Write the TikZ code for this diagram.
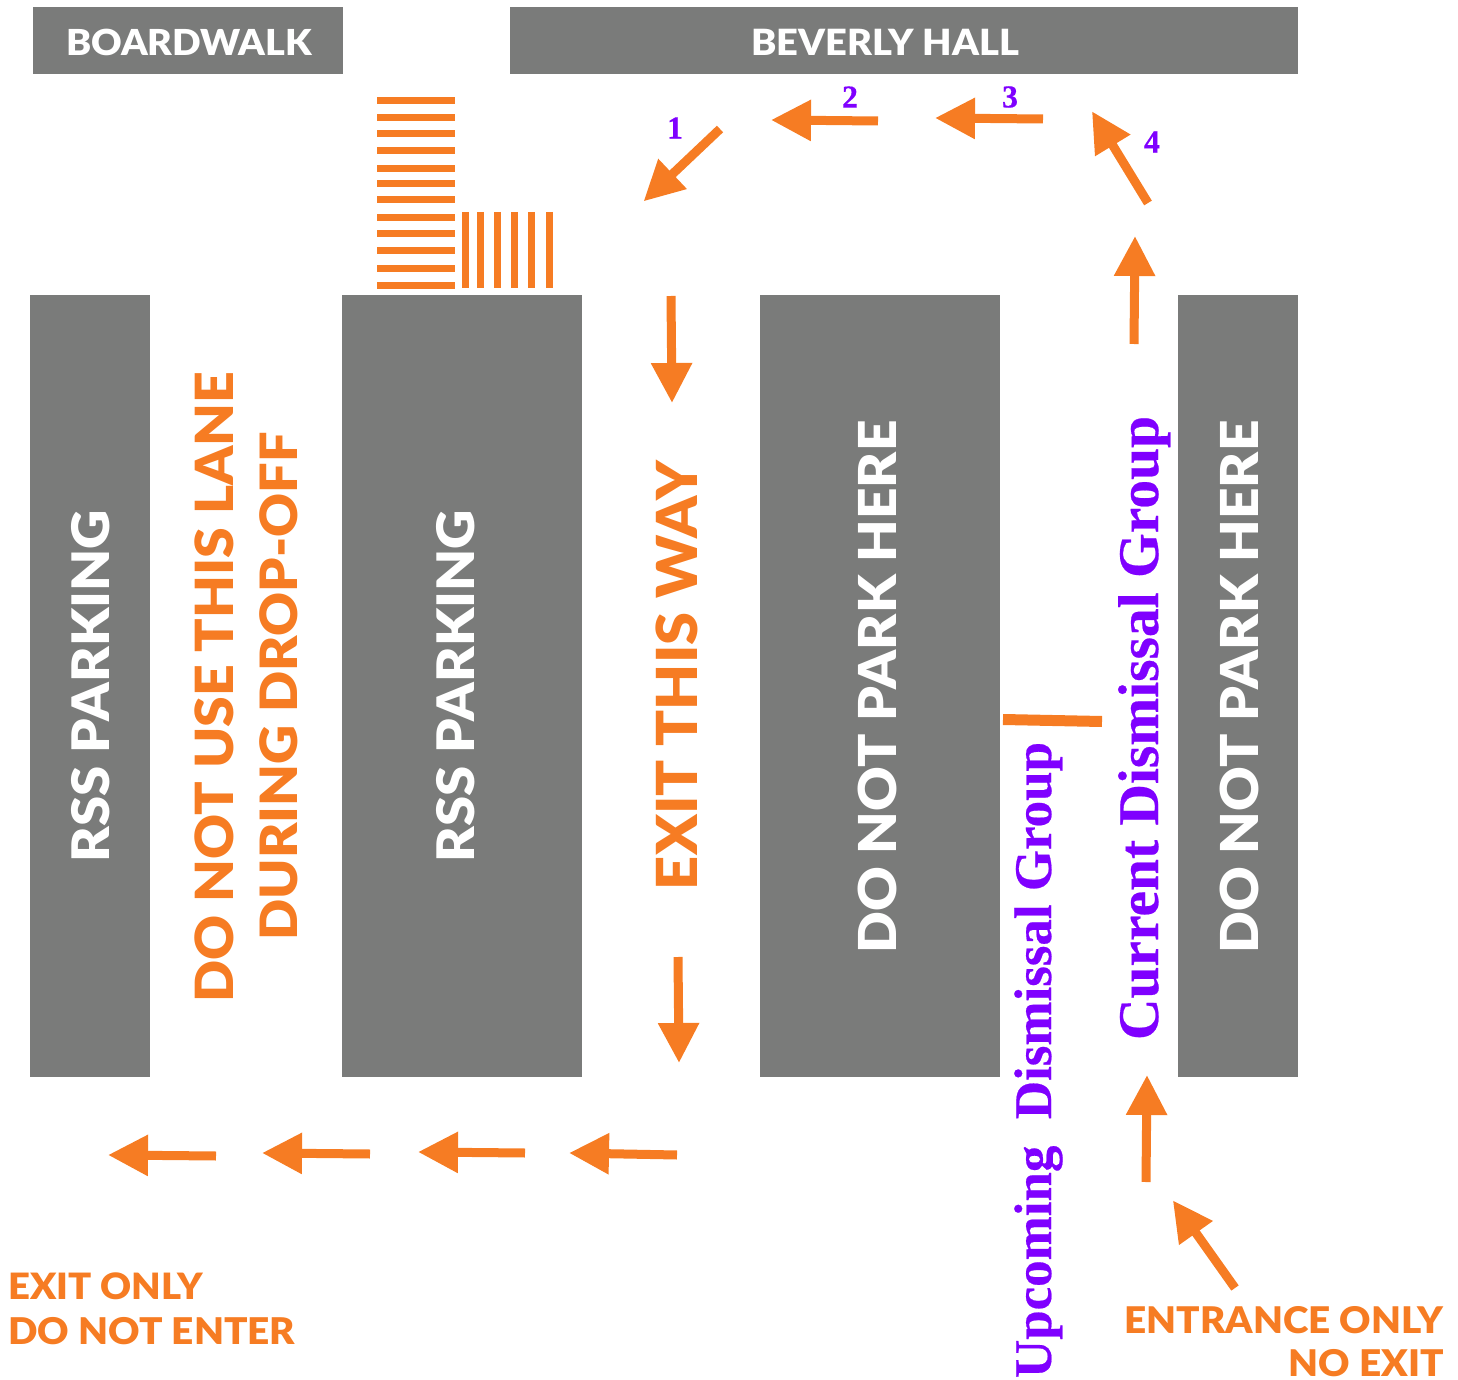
\documentclass[tikz,border=0pt]{standalone}
\usepackage{fontspec}
\usepackage{graphicx}
\setmainfont{Lato}[BoldFont={Lato Black}]
\newfontfamily\purplefont{Liberation Serif}[BoldFeatures={FakeBold=0.4}]
\usetikzlibrary{arrows.meta}
\definecolor{blockgray}{HTML}{7A7B7A}
\definecolor{signorange}{HTML}{F67C23}
\definecolor{signpurple}{HTML}{7F00FF}
\newcommand{\fitp}[2]{\resizebox{\dimexpr #1pt/2\relax}{!}{#2}}
\newcommand{\fitw}[2]{\scalebox{1}[0.95]{\resizebox{\dimexpr #1pt/2\relax}{!}{#2}}}
\tikzset{
  x=0.5pt,y=-0.5pt,
  block/.style={fill=blockgray,draw=none},
  blocktext/.style={text=white,font=\bfseries\fontsize{20}{24}\selectfont,anchor=base,inner sep=0pt},
  signtext/.style={text=signorange,font=\bfseries\fontsize{20}{24}\selectfont,inner sep=0pt},
  grouptext/.style={text=signpurple,font=\purplefont\bfseries\fontsize{30}{36}\selectfont,anchor=base,inner sep=0pt,rotate=90},
  numtext/.style={text=signpurple,font=\purplefont\bfseries\fontsize{16}{18}\selectfont,inner sep=0pt},
  flow/.style={draw=signorange,line width=4.5pt,shorten >=-1pt,-{Triangle[length=20pt,width=19.5pt]}},
  stripe/.style={draw=signorange,line width=3.5pt},
}
\newcommand{\flowarrow}[5]{%
  \coordinate (#1s) at (#2,#3);
  \coordinate (#1e) at (#4,#5);
  \draw[flow] (#1s) -- (#1e);}
\newcommand{\hstripe}[2]{%
  \coordinate (hs#1a) at (377,#2);
  \coordinate (hs#1b) at (455,#2);
  \draw[stripe] (hs#1a) -- (hs#1b);}
\newcommand{\vstripe}[2]{%
  \coordinate (vs#1a) at (#2,212);
  \coordinate (vs#1b) at (#2,288);
  \draw[stripe] (vs#1a) -- (vs#1b);}
\begin{document}
\begin{tikzpicture}
\useasboundingbox (0,0) rectangle (1458,1380);
% blocks
\fill[block] (33,7) rectangle (343,74);
\fill[block] (510,7) rectangle (1298,74);
\fill[block] (30,295) rectangle (150,1077);
\fill[block] (342,295) rectangle (582,1077);
\fill[block] (760,295) rectangle (1000,1077);
\fill[block] (1178,295) rectangle (1298,1077);
% block labels
\node[blocktext] (boardwalk) at (189,56) {\fitw{246}{BOARDWALK}};
\node[blocktext] (beverly) at (885,56) {\fitw{268}{BEVERLY HALL}};
\node[blocktext,rotate=90] (rss1) at (109,686) {\fitw{352}{RSS PARKING}};
\node[blocktext,rotate=90] (rss2) at (474,686) {\fitw{352}{RSS PARKING}};
\node[blocktext,rotate=90] (park1) at (896,687) {\fitw{533}{DO NOT PARK HERE}};
\node[blocktext,rotate=90] (park2) at (1258,687) {\fitw{533}{DO NOT PARK HERE}};
% orange labels
\node[signtext,anchor=base,rotate=90] (lane1) at (233,687) {\fitw{631}{DO NOT USE THIS LANE}};
\node[signtext,anchor=base,rotate=90] (lane2) at (297,686.5) {\fitw{508}{DURING DROP-OFF}};
\node[signtext,anchor=base,rotate=90] (exitway) at (697,675.5) {\fitw{429}{EXIT THIS WAY}};
\node[signtext,anchor=base west] (exitonly) at (8,1299) {\fitw{195}{EXIT ONLY}};
\node[signtext,anchor=base west] (donotenter) at (8,1344) {\fitw{287}{DO NOT ENTER}};
\node[signtext,anchor=base east] (entrance) at (1444,1333) {\fitw{319}{ENTRANCE ONLY}};
\node[signtext,anchor=base east] (noexit) at (1444,1376) {\fitw{155}{NO EXIT}};
% purple labels
\node[grouptext] (current) at (1158,728) {\fitp{624}{Current Dismissal Group}};
\node[grouptext] (upcoming) at (1051,1060) {\fitp{636}{Upcoming\ \ Dismissal Group}};
\node[numtext] (n1) at (675,128) {1};
\node[numtext] (n2) at (850,97) {2};
\node[numtext] (n3) at (1010,97) {3};
\node[numtext] (n4) at (1152,142) {4};
% bar
\coordinate (barl) at (1003,719.5);
\coordinate (barr) at (1102,721.5);
\draw[draw=signorange,line width=5.5pt] (barl) -- (barr);
% arrows
\flowarrow{a1}{720}{129}{645}{200}
\flowarrow{a2}{878}{121}{773}{120}
\flowarrow{a3}{1043}{119}{937}{118}
\flowarrow{a4}{1148}{203}{1093}{113}
\flowarrow{a5}{1134}{344}{1135}{238}
\flowarrow{a6}{671}{296}{672}{401}
\flowarrow{a7}{678}{957}{679}{1061}
\flowarrow{a8}{216}{1156}{110}{1155}
\flowarrow{a9}{370}{1154}{264}{1153}
\flowarrow{a10}{525}{1153}{420}{1152}
\flowarrow{a11}{677}{1155}{571}{1153}
\flowarrow{a12}{1146}{1182}{1147}{1077}
\flowarrow{a13}{1235}{1288}{1174}{1202}
% stripes
\hstripe{1}{100.3}\hstripe{2}{117.3}\hstripe{3}{133.3}\hstripe{4}{150.3}
\hstripe{5}{168.3}\hstripe{6}{183.3}\hstripe{7}{199.3}\hstripe{8}{217.3}
\hstripe{9}{233.3}\hstripe{10}{250.3}\hstripe{11}{268.3}\hstripe{12}{285.3}
\vstripe{1}{465.3}\vstripe{2}{480.7}\vstripe{3}{497.7}\vstripe{4}{514.3}\vstripe{5}{531.3}\vstripe{6}{549}
\end{tikzpicture}
\end{document}
